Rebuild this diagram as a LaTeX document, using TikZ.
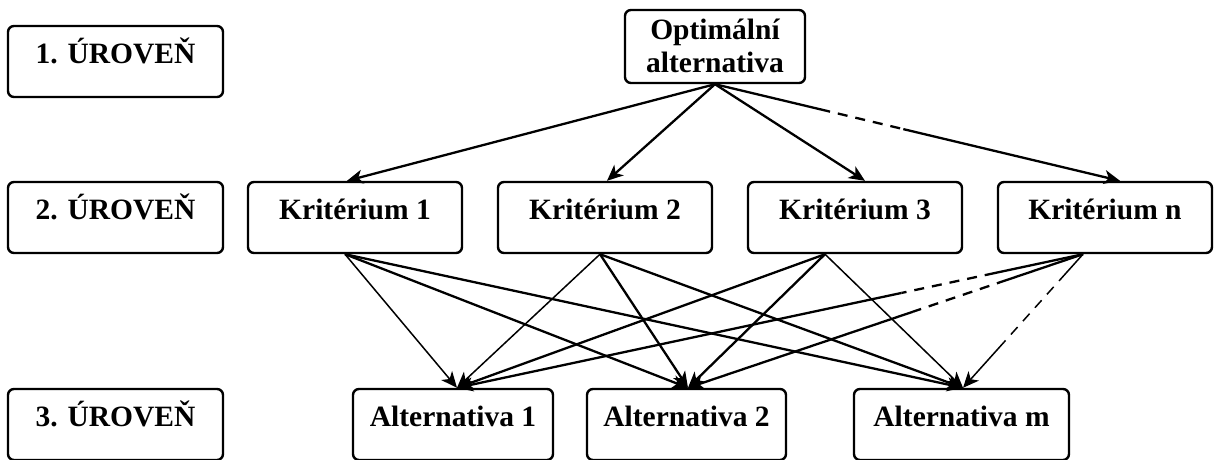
\documentclass[tikz,border=0pt]{standalone}
\usepackage{fontspec}
\setmainfont{Liberation Serif}
\usetikzlibrary{arrows.meta,calc}
\tikzset{
  box/.style={draw, line width=2.4pt, rounded corners=6pt, inner sep=0pt,
    font=\bfseries\fontsize{29.5}{33}\selectfont, align=center,
    text height=0.7em, text depth=0.25em},
  thickline/.style={line width=2.3pt},
  thinline/.style={line width=1.5pt},
  tip/.style={-{Stealth[length=16pt,width=14pt,inset=4.5pt]}},
  dashseg/.style={dash pattern=on 10pt off 8pt, dash phase=10pt}
}
\begin{document}
\begin{tikzpicture}[x=1pt,y=-1pt]
\useasboundingbox (0,0) rectangle (1221,459);
\clip (0,0) rectangle (1221,459);
% level boxes
\node[box, minimum width=215pt, minimum height=71pt] (l1) at (115.5,61.5) {1. ÚROVEŇ};
\node[box, minimum width=215pt, minimum height=71pt] (l2) at (115.5,217.5) {2. ÚROVEŇ};
\node[box, minimum width=215pt, minimum height=71pt] (l3) at (115.5,424.5) {3. ÚROVEŇ};
% top node
\node[box, minimum width=180pt, minimum height=73pt, text height=58.4pt, text depth=7.4pt] (top) at (715,46.5) {Optimální\\alternativa};
% criteria
\node[box, minimum width=214pt, minimum height=71pt] (k1) at (355,217.5) {Kritérium 1};
\node[box, minimum width=214pt, minimum height=71pt] (k2) at (605,217.5) {Kritérium 2};
\node[box, minimum width=214pt, minimum height=71pt] (k3) at (855,217.5) {Kritérium 3};
\node[box, minimum width=214pt, minimum height=71pt] (kn) at (1105,217.5) {Kritérium n};
% alternatives
\node[box, minimum width=200pt, minimum height=71pt] (a1) at (453,424.5) {Alternativa 1};
\node[box, minimum width=199pt, minimum height=71pt] (a2) at (686.5,424.5) {Alternativa 2};
\node[box, minimum width=215pt, minimum height=71pt] (am) at (961.5,424.5) {Alternativa m};
% anchor points
\coordinate (ts) at (top.south);
\coordinate (k1n) at ([xshift=-8pt]k1.north);
\coordinate (k2n) at ([xshift=2pt]k2.north);
\coordinate (k3n) at ([xshift=10pt]k3.north);
\coordinate (knn) at ([xshift=15pt]kn.north);
\coordinate (k1s) at ([xshift=-10pt]k1.south);
\coordinate (k2s) at ([xshift=-5pt]k2.south);
\coordinate (k3s) at ([xshift=-30pt]k3.south);
\coordinate (kns) at ([xshift=-22pt]kn.south);
\coordinate (a1n) at ([xshift=4pt]a1.north);
\coordinate (a2n) at ([xshift=1.5pt]a2.north);
\coordinate (amn) at ([xshift=1.5pt]am.north);
% top -> criteria
\draw[thickline, tip] (ts) -- (k1n);
\draw[thickline, tip] (ts) -- (k2n);
\draw[thickline, tip] (ts) -- (k3n);
\coordinate (tnA) at ($(ts)!0.284!(knn)$);
\coordinate (tnB) at ($(ts)!0.465!(knn)$);
\draw[thickline] (ts) -- (tnA);
\draw[thickline, dashseg] (tnA) -- (tnB);
\draw[thickline, tip] (tnB) -- (knn);
% criteria -> alternatives
\draw[thinline, tip] (k1s) -- (a1n);
\draw[thickline, tip] (k1s) -- (a2n);
\draw[thickline, tip] (k1s) -- (amn);
\draw[thinline, tip] (k2s) -- (a1n);
\draw[thickline, tip] (k2s) -- (a2n);
\draw[thickline, tip] (k2s) -- (amn);
\draw[thickline, tip] (k3s) -- (a1n);
\draw[thickline, tip] (k3s) -- (a2n);
\draw[thinline, tip] (k3s) -- (amn);
% criterion n (partly dashed)
\coordinate (n1A) at ($(kns)!0.157!(a1n)$);
\coordinate (n1B) at ($(kns)!0.29!(a1n)$);
\draw[thickline] (kns) -- (n1A);
\draw[thickline, dashseg] (n1A) -- (n1B);
\draw[thickline, tip] (n1B) -- (a1n);
\coordinate (n2A) at ($(kns)!0.218!(a2n)$);
\coordinate (n2B) at ($(kns)!0.43!(a2n)$);
\draw[thickline] (kns) -- (n2A);
\draw[thickline, dashseg] (n2A) -- (n2B);
\draw[thickline, tip] (n2B) -- (a2n);
\coordinate (nmA) at ($(kns)!0.2!(amn)$);
\coordinate (nmB) at ($(kns)!0.66!(amn)$);
\draw[thinline] (kns) -- (nmA);
\draw[thinline, dashseg] (nmA) -- (nmB);
\draw[thinline, tip] (nmB) -- (amn);
\end{tikzpicture}
\end{document}
